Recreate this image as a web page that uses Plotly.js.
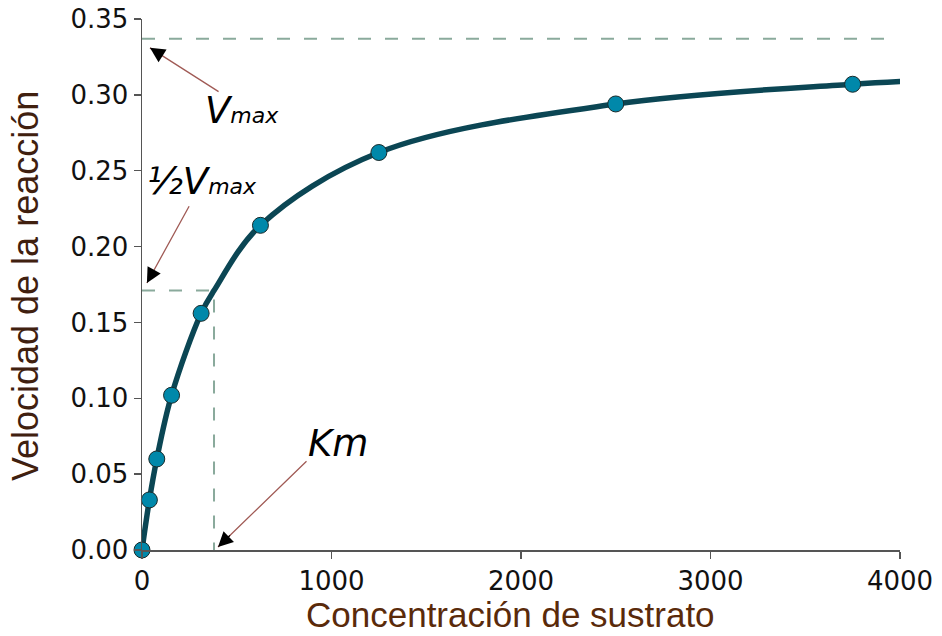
<!DOCTYPE html>
<html>
<head>
<meta charset="utf-8">
<script src="https://cdn.plot.ly/plotly-3.0.1.min.js"></script>
<style>html,body{margin:0;padding:0;background:#fff;}#chart{width:942px;height:636px;}</style>
</head>
<body>
<div id="chart"></div>
<script>
// Measured substrate concentrations and reaction rates
const substrate = [0, 39, 78, 156, 312, 625, 1250, 2500, 3750];
const velocity = [0, 0.033, 0.060, 0.102, 0.156, 0.214, 0.262, 0.294, 0.307];
// Fitted curve
const curveX = [0, 39, 78, 156, 312, 380, 625, 1250, 2500, 3750, 4025];
const curveY = [0, 0.033, 0.060, 0.102, 0.156, 0.171, 0.214, 0.262, 0.294, 0.307, 0.309];
// Reference levels
const vmax = 0.337;
const halfVmax = 0.171;
const km = 380;
const vmaxLineEnd = 3980;
const xTicks = [0, 1000, 2000, 3000, 4000];
const yTicks = [0, 0.05, 0.10, 0.15, 0.20, 0.25, 0.30, 0.35];

const dashStyle = {color: '#8aaa9c', width: 2, dash: '13px,14px'};

const traces = [
  {x: [0, vmaxLineEnd], y: [vmax, vmax], mode: 'lines', line: dashStyle, hoverinfo: 'skip', cliponaxis: false},
  {x: [0, km, km], y: [halfVmax, halfVmax, 0], mode: 'lines', line: dashStyle, hoverinfo: 'skip', cliponaxis: false},
  {x: curveX, y: curveY, mode: 'lines', line: {color: '#0b4654', width: 5.5, shape: 'spline', smoothing: 1}, cliponaxis: false},
  {x: substrate, y: velocity, mode: 'markers', marker: {color: '#0088aa', size: 16, line: {color: '#1a2a2a', width: 1}}, cliponaxis: false}
];

function arrow(hx, hy, tx, ty) {
  // brown shaft + black head
  const dx = tx - hx, dy = ty - hy;
  return [
    {x: hx, y: hy, ax: tx, ay: ty, xref: 'x', yref: 'y', axref: 'x', ayref: 'y', text: '', showarrow: true,
     arrowhead: 0, arrowwidth: 1.3, arrowcolor: '#a05a55'},
    {x: hx, y: hy, ax: hx + dx * 0.15, ay: hy + dy * 0.15, xref: 'x', yref: 'y', axref: 'x', ayref: 'y', text: '', showarrow: true,
     arrowhead: 2, arrowsize: 2.3, arrowwidth: 1.3, arrowcolor: '#000000'}
  ];
}

const labelFont = {family: 'DejaVu Sans', size: 37, color: '#000'};
const sub = 'max';
const annotations = [
  ...arrow(42, 0.331, 412, 0.3015),
  ...arrow(26, 0.176, 253, 0.2276),
  ...arrow(401, 0.002, 876, 0.0594),
  {x: 322, y: 0.2896, xref: 'x', yref: 'y', text: '<i>V<span style="font-size:22px">' + sub + '</span></i>', showarrow: false, xanchor: 'left', yanchor: 'middle', font: labelFont},
  {x: 16, y: 0.2427, xref: 'x', yref: 'y', text: '<i>½V<span style="font-size:22px">' + sub + '</span></i>', showarrow: false, xanchor: 'left', yanchor: 'middle', font: labelFont},
  {x: 865, y: 0.070, xref: 'x', yref: 'y', text: '<i>Km</i>', showarrow: false, xanchor: 'left', yanchor: 'middle', font: labelFont},
  {x: 0.4868, y: -0.1215, xref: 'paper', yref: 'paper', text: 'Concentración de sustrato', showarrow: false, xanchor: 'center', yanchor: 'middle',
   font: {family: 'Liberation Sans', size: 35, color: '#5a2a0a'}},
  {x: -0.1544, y: 0.497, xref: 'paper', yref: 'paper', text: 'Velocidad de la reacción', showarrow: false, xanchor: 'center', yanchor: 'middle', textangle: -90,
   font: {family: 'Liberation Sans', size: 36, color: '#40200f'}}
];

const layout = {
  width: 942, height: 636,
  margin: {l: 142, r: 42, t: 19, b: 86},
  paper_bgcolor: '#fff', plot_bgcolor: '#fff',
  showlegend: false,
  xaxis: {
    range: [0, 4000], tickvals: xTicks, ticktext: xTicks.map(String),
    showgrid: false, zeroline: false, showline: true, linecolor: '#555', linewidth: 1.5,
    ticks: 'outside', ticklen: 7, tickcolor: '#555', tickwidth: 1.5,
    tickfont: {family: 'DejaVu Sans', size: 26, color: '#111'}
  },
  yaxis: {
    range: [0, 0.35], tickvals: yTicks, ticktext: yTicks.map(v => v.toFixed(2)),
    showgrid: false, zeroline: false, showline: true, linecolor: '#555', linewidth: 1.5,
    ticks: 'outside', ticklen: 7, tickcolor: '#555', tickwidth: 1.5,
    tickfont: {family: 'DejaVu Sans', size: 26, color: '#111'}
  },
  annotations: annotations
};

Plotly.newPlot('chart', traces, layout, {displayModeBar: false, staticPlot: true});
</script>
</body>
</html>
